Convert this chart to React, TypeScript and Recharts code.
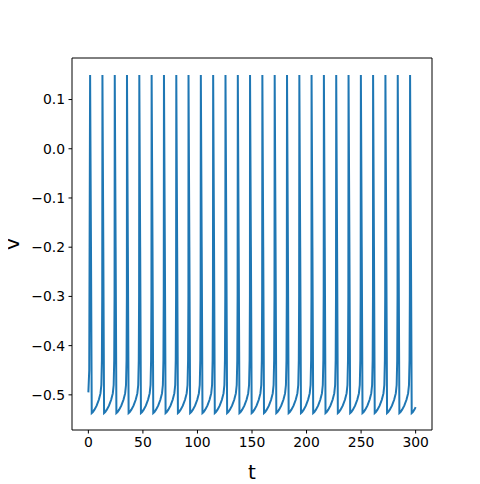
import { LineChart, Line, XAxis, YAxis, Label, ReferenceLine } from 'recharts';

// spike peak times
const spikeTimes = [
  1.6, 12.9, 24.2, 35.4, 46.7, 58.0, 69.3, 80.6, 91.8, 103.1, 114.4, 125.7, 137.0, 148.2,
  159.5, 170.8, 182.1, 193.4, 204.6, 215.9, 227.2, 238.5, 249.8, 261.0, 272.3, 283.6, 294.9,
];
const spikePeak = 0.15;

// shape of one inter-spike interval (offset after a spike, v)
const cycleOffsets = [0.8, 1.5, 2.5, 4, 6, 8, 9.5, 10.3, 10.8, 11.1];
const cycleValues = [-0.2, -0.537, -0.535, -0.53, -0.522, -0.51, -0.497, -0.48, -0.43, -0.3];

// start and end of the trace
const startPoints = [
  { t: 0, v: -0.495 },
  { t: 0.8, v: -0.45 },
];
const endPoint = { t: 300, v: -0.525 };

const xDomain = [-15, 315];
const yDomain = [-0.5714, 0.1844];
const xTicks = [0, 50, 100, 150, 200, 250, 300];
const yTicks = [-0.5, -0.4, -0.3, -0.2, -0.1, 0.0, 0.1];

const data: Array<{ t: number; v: number }> = [...startPoints];
spikeTimes.forEach((s, i) => {
  data.push({ t: s, v: spikePeak });
  const next = i < spikeTimes.length - 1 ? spikeTimes[i + 1] : endPoint.t;
  cycleOffsets.forEach((o, j) => {
    if (s + o < next) data.push({ t: +(s + o).toFixed(2), v: cycleValues[j] });
  });
});
data.push(endPoint);

const font = 'DejaVu Sans, sans-serif';
const tickStyle = { fill: '#000', fontSize: 13.9, fontFamily: font };
const fmt = (v: number) => v.toFixed(1).replace('-', '\u2212');

const YLabel = (props: any) => {
  const vb = props.viewBox || {};
  const cx = (vb.x || 0) + 5;
  const cy = (vb.y || 0) + (vb.height || 0) / 2;
  return (
    <text
      x={cx}
      y={cy}
      transform={`rotate(-90, ${cx}, ${cy})`}
      textAnchor="middle"
      dy="0.3em"
      fill="#000"
      fontSize={20}
      fontFamily={font}
    >
      v
    </text>
  );
};

const App = () => {
  return (
    <LineChart
      width={472}
      height={476}
      data={data}
      margin={{ top: 50, right: 48, left: 0, bottom: 0 }}
    >
      <XAxis
        dataKey="t"
        type="number"
        domain={xDomain}
        ticks={xTicks}
        height={54}
        stroke="#000"
        tick={tickStyle}
        tickSize={3.5}
        tickMargin={3.5}
        tickLine={{ stroke: '#000' }}
        axisLine={{ stroke: '#000' }}
      >
        <Label
          value="t"
          position="insideBottom"
          offset={5}
          style={{ fill: '#000', fontSize: 20, fontFamily: font }}
        />
      </XAxis>
      <YAxis
        type="number"
        domain={yDomain}
        ticks={yTicks}
        width={64}
        stroke="#000"
        tick={tickStyle}
        tickSize={3.5}
        tickMargin={3.5}
        tickFormatter={fmt}
        tickLine={{ stroke: '#000' }}
        axisLine={{ stroke: '#000' }}
      >
        <Label content={YLabel} />
      </YAxis>
      <ReferenceLine x={xDomain[1]} stroke="#000" strokeWidth={1} ifOverflow="visible" />
      <ReferenceLine y={yDomain[1]} stroke="#000" strokeWidth={1} ifOverflow="visible" />
      <Line
        type="linear"
        dataKey="v"
        stroke="#1f77b4"
        strokeWidth={2}
        dot={false}
        isAnimationActive={false}
      />
    </LineChart>
  );
};

export default App;
